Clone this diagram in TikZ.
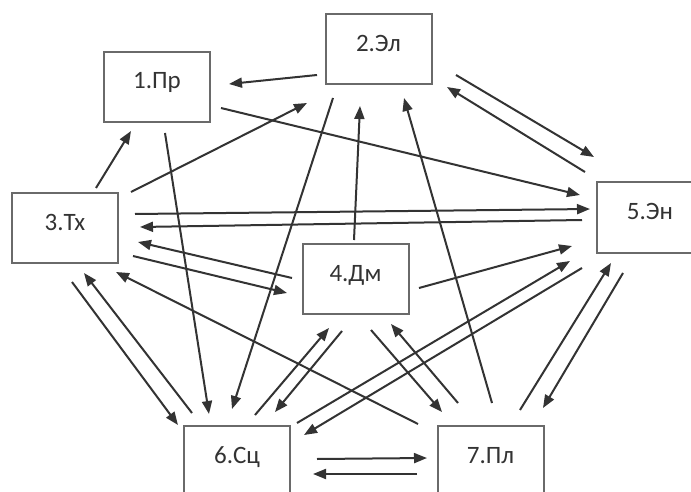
\documentclass[tikz,border=0pt]{standalone}
\usepackage{fontspec}
\setmainfont{Carlito}
\usetikzlibrary{arrows.meta}
\definecolor{ln}{HTML}{333333}
\definecolor{bx}{HTML}{6A6A6A}
\definecolor{tx}{HTML}{333333}
\tikzset{
  box/.style={draw=bx, line width=2pt, minimum width=106pt, inner sep=0pt,
    text height=37pt, text depth=33pt, text=tx, font=\fontsize{25}{29}\selectfont},
  arr/.style={draw=ln, line width=2pt, -{Triangle[length=13pt,width=10pt]}}
}
\begin{document}
\begin{tikzpicture}[x=1pt,y=-1pt]
\fill[white] (0,0) rectangle (691,492);
\clip (0,0) rectangle (691,492);
\node[box] (n1) at (157,87) {1.Пр};
\node[box] (n2) at (378.5,49.5) {2.Эл};
\node[box] (n3) at (65,228) {3.Тх};
\node[box] (n4) at (355.5,279) {4.Дм};
\node[box] (n5) at (650,217.5) {5.Эн};
\node[box] (n6) at (237,461) {6.Сц};
\node[box] (n7) at (490.5,461) {7.Пл};
\foreach \n/\s/\t in {
  21/{317,75}/{229,84},
  31/{96,188}/{131,131},
  32/{131,192}/{307,103},
  15/{221,108}/{580,195},
  25/{456,75}/{594,157},
  52/{585,172}/{447,87},
  35/{135,214}/{590,209},
  53/{582,220}/{140,227},
  42/{354,240}/{360,106},
  72/{492,403}/{404,98},
  16/{165,133}/{209,414},
  26/{333,98}/{232,409},
  43/{292,278}/{138,242},
  34/{133,256}/{287,293},
  36/{72,282}/{178,425},
  63/{192,413}/{84,273},
  73/{418,424}/{116,272},
  64/{255,415}/{329,328},
  46/{342,331}/{275,412},
  65/{297,423}/{570,261},
  56/{582,268}/{304,435},
  45/{419,288}/{572,246},
  47/{371,330}/{442,412},
  74/{458,403}/{391,324},
  75/{520,410}/{611,263},
  57/{623,273}/{543,408},
  67/{317,459}/{427,458},
  76/{417,474}/{313,474}}
{
  \coordinate (s\n) at (\s);
  \coordinate (t\n) at (\t);
  \draw[arr] (s\n) -- (t\n);
}
\end{tikzpicture}
\end{document}
